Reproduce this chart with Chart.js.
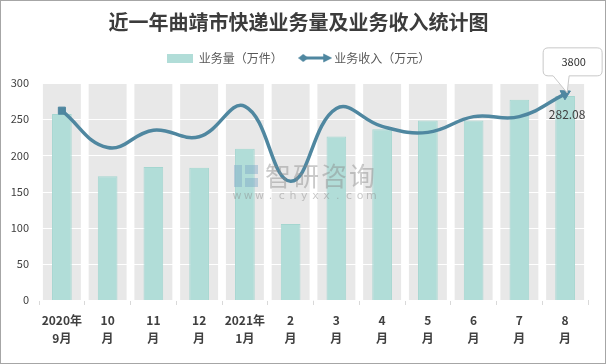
<!DOCTYPE html>
<html>
<head>
<meta charset="utf-8">
<script src="https://cdn.jsdelivr.net/npm/chart.js@4/dist/chart.umd.min.js"></script>
<style>
  body { margin: 0; background: #fff; }
  #wrap { width: 604px; height: 362px; border: 1px solid #a6a6a6; position: relative; }
</style>
</head>
<body>
<div id="wrap"><canvas id="chart" width="604" height="362"></canvas></div>
<script>
// category labels (two lines each, as on the axis)
const months = [
  ['2020年', '9月'], ['10', '月'], ['11', '月'], ['12', '月'],
  ['2021年', '1月'], ['2', '月'], ['3', '月'], ['4', '月'],
  ['5', '月'], ['6', '月'], ['7', '月'], ['8', '月']
];
// 业务量 (万件)
const volume = [257, 171, 184, 183, 209, 105, 226, 236, 248, 248, 277, 282.08];
// 业务收入 (万元), plotted on a hidden secondary axis
const revenue = [3490, 2810, 3130, 3010, 3570, 2190, 3530, 3200, 3090, 3380, 3380, 3800];
const yTicks = [0, 50, 100, 150, 200, 250, 300];
const yMax = 300;
const y2Max = 4000;

const FONT = '"Noto Sans CJK SC", "Noto Sans", sans-serif';
const LINE = '#4f87a0';
const BAR = '#b1ddd8';
const BAND = '#e8e8e8';

// legend icons as small canvases
function barIcon() {
  const c = document.createElement('canvas');
  c.width = 26; c.height = 9;
  const g = c.getContext('2d');
  g.fillStyle = BAR;
  g.fillRect(0, 0, 26, 9);
  return c;
}
function lineIcon() {
  const c = document.createElement('canvas');
  c.width = 34; c.height = 12;
  const g = c.getContext('2d');
  g.strokeStyle = LINE; g.fillStyle = LINE; g.lineWidth = 3;
  g.beginPath(); g.moveTo(4, 6); g.lineTo(28, 6); g.stroke();
  // diamond on the left
  g.beginPath(); g.moveTo(0, 6); g.lineTo(5, 2); g.lineTo(10, 6); g.lineTo(5, 10); g.closePath(); g.fill();
  // arrow head on the right
  g.beginPath(); g.moveTo(34, 6); g.lineTo(25, 1.5); g.lineTo(25, 10.5); g.closePath(); g.fill();
  return c;
}

// extra room under the legend
const legendSpacer = {
  id: 'legendSpacer',
  beforeInit(chart) {
    const fit = chart.legend.fit;
    chart.legend.fit = function () {
      fit.bind(chart.legend)();
      this.height += 9;
    };
  }
};

// white gridlines painted on top of the grey bands, under the bars
const gridOverBands = {
  id: 'gridOverBands',
  afterDatasetDraw(chart, args) {
    if (args.index !== 2) return;
    const { ctx, chartArea } = chart;
    const ys = chart.scales.y;
    ctx.save();
    ctx.strokeStyle = '#ffffff';
    ctx.lineWidth = 1;
    ys.ticks.forEach(t => {
      const y = Math.round(ys.getPixelForValue(t.value)) + 0.5;
      ctx.beginPath();
      ctx.moveTo(chartArea.left, y);
      ctx.lineTo(chartArea.right, y);
      ctx.stroke();
    });
    ctx.restore();
  }
};

// callout on the last revenue point and value label on the last bar, plus watermark
const annotations = {
  id: 'annotations',
  afterDatasetsDraw(chart) {
    const { ctx } = chart;
    ctx.save();

    // watermark
    ctx.globalAlpha = 0.45;
    ctx.fillStyle = '#7fa8c8';
    ctx.fillRect(233, 164, 8, 22);
    ctx.fillRect(244, 164, 13, 9);
    ctx.fillRect(244, 177, 13, 9);
    ctx.fillStyle = '#8a8a8a';
    ctx.font = '26px ' + FONT;
    ctx.textBaseline = 'middle';
    ctx.textAlign = 'center';
    '智研咨询'.split('').forEach((ch, i) => ctx.fillText(ch, 277 + i * 28, 175));
    ctx.font = '11px "DejaVu Sans", sans-serif';
    'www.chyxx.com'.split('').forEach((ch, i) => ctx.fillText(ch, 236 + i * 11.2, 195));
    ctx.globalAlpha = 1;

    // label on the last bar
    const barMeta = chart.getDatasetMeta(1);
    const lastBar = barMeta.data[barMeta.data.length - 1];
    ctx.font = '12px ' + FONT;
    ctx.fillStyle = '#404040';
    ctx.textAlign = 'center';
    ctx.textBaseline = 'middle';
    ctx.fillText(String(volume[volume.length - 1]), lastBar.x + 2, lastBar.y + 18);

    // callout on the last line point
    const lineMeta = chart.getDatasetMeta(0);
    const p = lineMeta.data[lineMeta.data.length - 1];
    const bx = p.x - 22, bw = 59, bh = 28, by = p.y - 46, r = 5;
    const tipX = p.x + 2, tipY = p.y - 1;
    ctx.beginPath();
    ctx.moveTo(bx + r, by);
    ctx.lineTo(bx + bw - r, by);
    ctx.quadraticCurveTo(bx + bw, by, bx + bw, by + r);
    ctx.lineTo(bx + bw, by + bh - r);
    ctx.quadraticCurveTo(bx + bw, by + bh, bx + bw - r, by + bh);
    ctx.lineTo(p.x + 4, by + bh);
    ctx.lineTo(tipX, tipY);
    ctx.lineTo(p.x - 12, by + bh);
    ctx.lineTo(bx + r, by + bh);
    ctx.quadraticCurveTo(bx, by + bh, bx, by + bh - r);
    ctx.lineTo(bx, by + r);
    ctx.quadraticCurveTo(bx, by, bx + r, by);
    ctx.closePath();
    ctx.fillStyle = '#ffffff';
    ctx.fill();
    ctx.strokeStyle = '#c8c8c8';
    ctx.lineWidth = 1;
    ctx.stroke();
    ctx.fillStyle = '#333333';
    ctx.font = '11px ' + FONT;
    ctx.fillText(String(revenue[revenue.length - 1]), bx + bw / 2 + 1, by + bh / 2);

    ctx.restore();
  }
};

const n = months.length;
const pointRadius = revenue.map((v, i) => (i === 0 ? 5 : i === n - 1 ? 6 : 0));
const pointStyle = revenue.map((v, i) => (i === n - 1 ? 'triangle' : 'rect'));
const pointRotation = revenue.map((v, i) => (i === n - 1 ? 62 : 0));

new Chart(document.getElementById('chart'), {
  type: 'bar',
  data: {
    labels: months,
    datasets: [
      {
        type: 'line',
        label: '业务收入（万元）',
        data: revenue,
        yAxisID: 'y1',
        borderColor: LINE,
        backgroundColor: LINE,
        borderWidth: 3.5,
        tension: 0.42,
        pointRadius: pointRadius,
        pointStyle: pointStyle,
        pointRotation: pointRotation,
        pointBorderWidth: 1,
        order: 1
      },
      {
        label: '业务量（万件）',
        data: volume,
        yAxisID: 'y',
        backgroundColor: BAR,
        borderColor: '#a4d6d0',
        borderWidth: 1,
        grouped: false,
        barPercentage: 0.43,
        categoryPercentage: 1,
        order: 2
      },
      {
        label: 'band',
        data: months.map(() => yMax),
        yAxisID: 'y',
        backgroundColor: BAND,
        grouped: false,
        barPercentage: 0.83,
        categoryPercentage: 1,
        order: 3
      }
    ]
  },
  options: {
    responsive: false,
    animation: false,
    maintainAspectRatio: false,
    layout: { padding: { left: 8, right: 17, top: 0, bottom: 4 } },
    plugins: {
      title: {
        display: true,
        text: '近一年曲靖市快递业务量及业务收入统计图',
        color: '#3c3c3c',
        font: { family: FONT, size: 20, weight: 'bold' },
        padding: { top: 9, bottom: 4 }
      },
      legend: {
        display: true,
        position: 'top',
        labels: {
          usePointStyle: true,
          pointStyleWidth: 26,
          padding: 14,
          color: '#595959',
          font: { family: FONT, size: 12 },
          generateLabels: () => [
            { text: '业务量（万件）  ', pointStyle: barIcon(), fontColor: '#595959', datasetIndex: 1, lineWidth: 0 },
            { text: '业务收入（万元）', pointStyle: lineIcon(), fontColor: '#595959', datasetIndex: 0, lineWidth: 0 }
          ]
        }
      },
      tooltip: { enabled: false }
    },
    scales: {
      x: {
        afterFit: axis => { axis.height = 59; },
        grid: { display: true, drawOnChartArea: false, drawTicks: true, tickLength: 5, color: '#d9d9d9', offset: true },
        border: { display: true, color: '#d9d9d9' },
        ticks: {
          color: '#404040',
          font: { family: FONT, size: 12, weight: 'bold', lineHeight: 1.55 },
          padding: 6,
          maxRotation: 0,
          autoSkip: false
        }
      },
      y: {
        min: 0,
        max: yMax,
        afterFit: axis => { axis.width = 30; },
        afterBuildTicks: axis => { axis.ticks = yTicks.map(v => ({ value: v })); },
        grid: { display: false },
        border: { display: false },
        ticks: { color: '#404040', font: { family: FONT, size: 11 }, padding: 2 }
      },
      y1: {
        min: 0,
        max: y2Max,
        display: false
      }
    }
  },
  plugins: [legendSpacer, gridOverBands, annotations]
});
</script>
</body>
</html>
